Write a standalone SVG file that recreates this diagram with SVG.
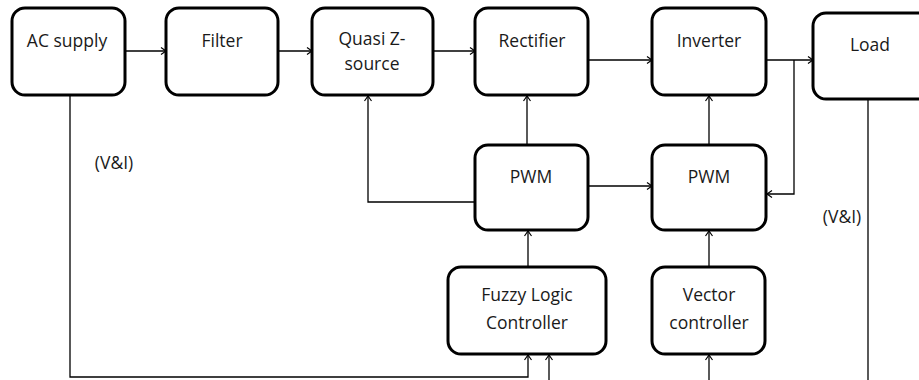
<svg xmlns="http://www.w3.org/2000/svg" width="919" height="380" viewBox="0 0 919 380">
<style>
.box{fill:#fff;stroke:#000;stroke-width:3}
.t{font-family:"Open Sans","Liberation Sans",sans-serif;font-size:17.5px;fill:#1a1a1a;text-anchor:middle}
.c{fill:none;stroke:#000;stroke-width:1.3}
</style>
<defs>
<marker id="a" markerWidth="10" markerHeight="10" refX="8" refY="5" orient="auto" markerUnits="userSpaceOnUse">
<polyline points="3,1.5 8,5 3,8.5" fill="none" stroke="#000" stroke-width="1.2"/>
</marker>
</defs>
<rect width="919" height="380" fill="#fff"/>
<g id="connectors">
<line class="c" x1="125" y1="51" x2="166" y2="51" marker-end="url(#a)"/>
<line class="c" x1="278" y1="51" x2="312" y2="51" marker-end="url(#a)"/>
<line class="c" x1="433" y1="51" x2="475" y2="51" marker-end="url(#a)"/>
<line class="c" x1="588" y1="60" x2="652" y2="60" marker-end="url(#a)"/>
<line class="c" x1="766" y1="60" x2="813" y2="60" marker-end="url(#a)"/>
<polyline class="c" points="794,60 794,194 767,194" marker-end="url(#a)"/>
<line class="c" x1="527" y1="145" x2="527" y2="96" marker-end="url(#a)"/>
<line class="c" x1="709" y1="145" x2="709" y2="96" marker-end="url(#a)"/>
<polyline class="c" points="475,202 368,202 368,96" marker-end="url(#a)"/>
<line class="c" x1="588" y1="186" x2="652" y2="186" marker-end="url(#a)"/>
<line class="c" x1="528" y1="267" x2="528" y2="231" marker-end="url(#a)"/>
<line class="c" x1="709" y1="267" x2="709" y2="231" marker-end="url(#a)"/>
<polyline class="c" points="70,95 70,377 528,377 528,355" marker-end="url(#a)"/>
<line class="c" x1="549" y1="380" x2="549" y2="355" marker-end="url(#a)"/>
<line class="c" x1="709" y1="380" x2="709" y2="355" marker-end="url(#a)"/>
<line class="c" x1="868" y1="99" x2="868" y2="380"/>
</g>
<g id="ac"><rect class="box" x="12" y="8" width="113" height="87" rx="13"/><text class="t" x="67" y="47">AC supply</text></g>
<g id="filter"><rect class="box" x="166" y="8" width="112" height="87" rx="13"/><text class="t" x="222" y="47">Filter</text></g>
<g id="qz"><rect class="box" x="312" y="8" width="121" height="87" rx="13"/><text class="t" x="372" y="45">Quasi Z-</text><text class="t" x="372" y="70">source</text></g>
<g id="rect"><rect class="box" x="475" y="8" width="113" height="87" rx="13"/><text class="t" x="532" y="47">Rectifier</text></g>
<g id="inv"><rect class="box" x="652" y="8" width="114" height="87" rx="13"/><text class="t" x="709" y="47">Inverter</text></g>
<g id="load"><rect class="box" x="813" y="13" width="120" height="86" rx="13"/><text class="t" x="870" y="51">Load</text></g>
<g id="pwm1"><rect class="box" x="475" y="145" width="113" height="85" rx="13"/><text class="t" x="531" y="183">PWM</text></g>
<g id="pwm2"><rect class="box" x="652" y="145" width="114" height="85" rx="13"/><text class="t" x="709" y="183">PWM</text></g>
<g id="flc"><rect class="box" x="448" y="267" width="158" height="87" rx="13"/><text class="t" x="527" y="301">Fuzzy Logic</text><text class="t" x="527" y="329">Controller</text></g>
<g id="vc"><rect class="box" x="652" y="267" width="113" height="87" rx="13"/><text class="t" x="709" y="301">Vector</text><text class="t" x="709" y="329">controller</text></g>
<text class="t" x="114" y="169">(V&amp;I)</text>
<text class="t" x="842" y="223">(V&amp;I)</text>
</svg>
